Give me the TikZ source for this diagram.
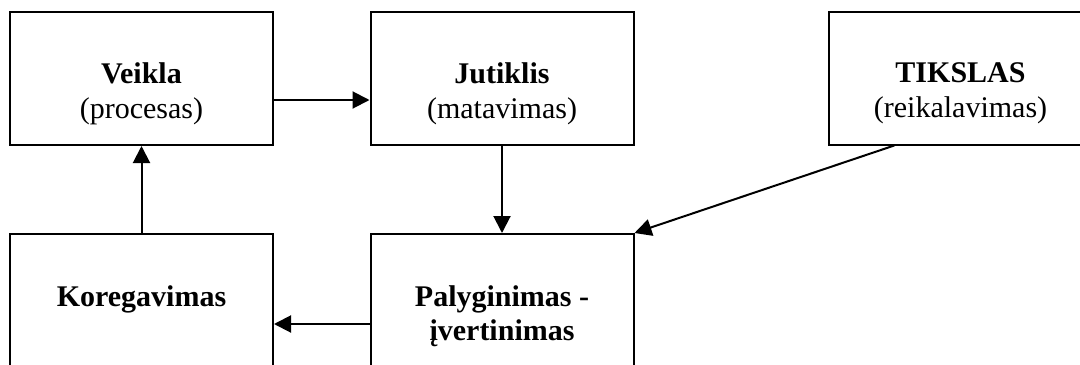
\documentclass[tikz,border=0pt]{standalone}
\usepackage{fontspec}
\setmainfont{Liberation Serif}
\usetikzlibrary{arrows.meta,calc}
\begin{document}
\begin{tikzpicture}[x=0.5pt,y=-0.5pt,
  box/.style={draw,line width=1pt,minimum width=131.5pt,minimum height=66.5pt,inner sep=0pt},
  title/.style={anchor=base,inner sep=0pt,font=\fontsize{15}{17.5}\selectfont\bfseries},
  sub/.style={anchor=base,inner sep=0pt,font=\fontsize{15}{17.5}\selectfont},
  link/.style={line width=1pt,-{Triangle[length=8.5pt,width=8.5pt]}}]
\useasboundingbox (0,0) rectangle (1080,364);
\clip (0,0) rectangle (1080,364);

% boxes
\node[box] (vei) at (141.5,78.5) {};
\node[box] (jut) at (502,78.5) {};
\node[box] (tik) at (960.5,78) {};
\node[box] (kor) at (141.5,300.5) {};
\node[box] (pal) at (502,300.5) {};

% texts
\node[title] (veiT) at (141.5,83) {Veikla};
\node[sub]   (veiS) at (141.5,118) {(procesas)};
\node[title] (jutT) at (502,83) {Jutiklis};
\node[sub]   (jutS) at (502,118) {(matavimas)};
\node[title] (tikT) at (960.5,82.5) {TIKSLAS};
\node[sub]   (tikS) at (960.5,117.5) {(reikalavimas)};
\node[title] (korT) at (141.5,306.5) {Koregavimas};
\node[title] (palT) at (502,306) {Palyginimas -};
\node[title] (palU) at (502,340.5) {įvertinimas};

% connectors
\coordinate (veiOut) at ([yshift=-10.75pt]vei.east);
\draw[link] (veiOut) -- (veiOut -| jut.west);
\draw[link] (jut.south) -- (pal.north);
\draw[link] ($(tik.south west)!0.25!(tik.south east)$) -- (pal.north east);
\coordinate (palOut) at ([yshift=-11.75pt]pal.west);
\draw[link] (palOut) -- (palOut -| kor.east);
\draw[link] (kor.north) -- (vei.south);
\end{tikzpicture}
\end{document}
